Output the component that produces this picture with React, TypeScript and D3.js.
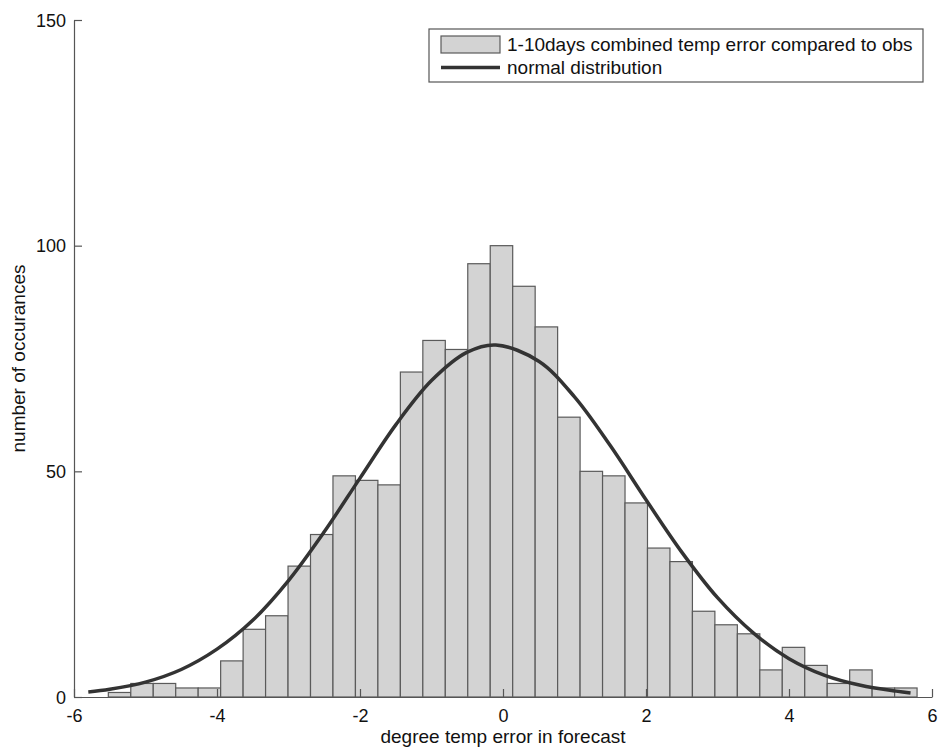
import * as React from 'react';
import {useEffect, useRef} from 'react';
import * as d3 from 'd3';

const width = 941;
const height = 751;
const margin = {top: 20, right: 9, bottom: 54, left: 74};

// histogram: 36 bins starting at binStart, each binWidth wide
const binStart = -5.52;
const binWidth = 0.3142;
const counts = [
  1, 3, 3, 2, 2, 8, 15, 18, 29, 36, 49, 48,
  47, 72, 79, 77, 96, 100, 91, 82, 62, 50, 49, 43,
  33, 30, 19, 16, 14, 6, 11, 7, 3, 6, 2, 2
];

// fitted normal curve
const curveX = [-5.8, -5.5, -5, -4.5, -4, -3.5, -3, -2.5, -2, -1.5, -1, -0.5, -0.1, 0.5, 1, 1.5, 2, 2.5, 3, 3.5, 4, 4.5, 5, 5.5, 5.7];
const curveY = [1.1, 1.7, 3.3, 6.1, 10.6, 17.0, 25.8, 36.6, 48.5, 60.3, 70.1, 76.4, 78, 74.4, 66.5, 55.7, 43.7, 32.1, 22.0, 14.2, 8.5, 4.8, 2.6, 1.3, 0.9];

const xTicks = [-6, -4, -2, 0, 2, 4, 6];
const yTicks = [0, 50, 100, 150];

const legendLabels = ['1-10days combined temp error compared to obs', 'normal distribution'];

const font = '"Liberation Sans", Arial, sans-serif';

export default function App() {
  const ref = useRef<SVGSVGElement>(null);

  useEffect(() => {
    const svg = d3.select(ref.current);
    svg.selectAll('*').remove();

    const x = d3.scaleLinear().domain([-6, 6]).range([margin.left, width - margin.right]);
    const y = d3.scaleLinear().domain([0, 150]).range([height - margin.bottom, margin.top]);

    const bins = counts.map((c, i) => ({x0: binStart + i * binWidth, x1: binStart + (i + 1) * binWidth, c}));

    svg.append('g')
      .selectAll('rect')
      .data(bins)
      .join('rect')
        .attr('x', d => x(d.x0))
        .attr('y', d => y(d.c))
        .attr('width', d => x(d.x1) - x(d.x0))
        .attr('height', d => y(0) - y(d.c))
        .attr('fill', '#d3d3d3')
        .attr('stroke', '#5a5a5a')
        .attr('stroke-width', 1.2);

    const line = d3.line<number>()
      .x((_, i) => x(curveX[i]))
      .y(d => y(d))
      .curve(d3.curveCatmullRom);

    svg.append('path')
      .attr('d', line(curveY))
      .attr('fill', 'none')
      .attr('stroke', '#333')
      .attr('stroke-width', 3.5);

    // axes with inward ticks
    const xAxis = svg.append('g')
      .attr('transform', `translate(0,${y(0)})`)
      .call(d3.axisBottom(x).tickValues(xTicks).tickFormat(d => String(d)).tickSizeInner(-8).tickSizeOuter(0).tickPadding(9));
    const yAxis = svg.append('g')
      .attr('transform', `translate(${x(-6)},0)`)
      .call(d3.axisLeft(y).tickValues(yTicks).tickFormat(d => String(d)).tickSizeInner(-8).tickSizeOuter(0).tickPadding(8));

    for (const ax of [xAxis, yAxis]) {
      ax.select('.domain').attr('stroke', '#555').attr('stroke-width', 1.2);
      ax.selectAll('.tick line').attr('stroke', '#555').attr('stroke-width', 1.2);
      ax.selectAll('.tick text')
        .attr('fill', '#111')
        .style('font-family', font)
        .style('font-size', '18px');
    }
    xAxis.selectAll('.tick text').attr('dy', '0.9em');
    yAxis.selectAll('.tick text').attr('dy', '0.35em');

    svg.append('text')
      .attr('x', (x(-6) + x(6)) / 2)
      .attr('y', 743)
      .attr('text-anchor', 'middle')
      .attr('fill', '#111')
      .style('font-family', font)
      .style('font-size', '19px')
      .text('degree temp error in forecast');

    svg.append('text')
      .attr('transform', `translate(25,${(y(0) + y(150)) / 2}) rotate(-90)`)
      .attr('text-anchor', 'middle')
      .attr('fill', '#111')
      .style('font-family', font)
      .style('font-size', '19px')
      .text('number of occurances');

    // legend
    const lg = svg.append('g');
    lg.append('rect')
      .attr('x', 429).attr('y', 29).attr('width', 494).attr('height', 53)
      .attr('fill', '#fff').attr('stroke', '#555').attr('stroke-width', 1.2);
    lg.append('rect')
      .attr('x', 441).attr('y', 36).attr('width', 59).attr('height', 17)
      .attr('fill', '#d3d3d3').attr('stroke', '#5a5a5a').attr('stroke-width', 1.2);
    lg.append('line')
      .attr('x1', 441).attr('x2', 500).attr('y1', 67.5).attr('y2', 67.5)
      .attr('stroke', '#333').attr('stroke-width', 3.5);
    lg.selectAll('text.lab')
      .data(legendLabels)
      .join('text')
        .attr('class', 'lab')
        .attr('x', 507)
        .attr('y', (_, i) => 51 + i * 23)
        .attr('fill', '#111')
        .style('font-family', font)
        .style('font-size', '19px')
        .text(d => d);
  }, []);

  return (
    <svg ref={ref} width={width} height={height}
      style={{position: 'absolute', left: 0, top: 0, background: '#fff'}} />
  );
}
